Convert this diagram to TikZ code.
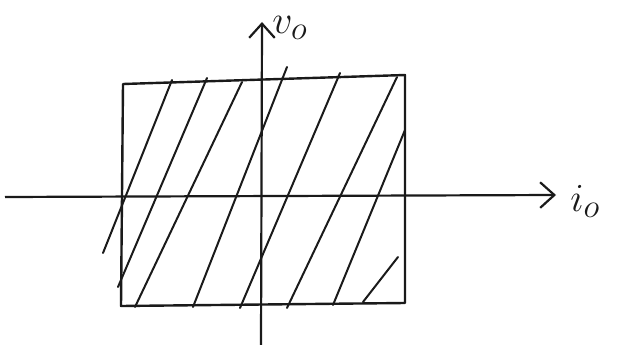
\documentclass[tikz,border=0pt]{standalone}
\usepackage{tikz}
\usetikzlibrary{positioning,arrows.meta}
\definecolor{ink}{HTML}{1A1A1A}
\tikzset{
  axis/.style={draw=ink, line width=2.2pt, -{Straight Barb[length=5mm, width=9mm, line width=2.2pt]}},
  region/.style={draw=ink, line width=2.4pt, line join=round},
  hatch/.style={draw=ink, line width=2pt, line cap=round},
  axlabel/.style={text=ink, inner sep=0pt, font=\Huge, scale=1.6},
}

\begin{document}
\begin{tikzpicture}[x=1pt, y=-1pt]
    \useasboundingbox (0,0) rectangle (621,345);
    % axes
    \coordinate (iL) at (5,197);
    \coordinate (iR) at (556,195);
    \coordinate (vB) at (261,345);
    \coordinate (vT) at (262,22);
    \draw[axis] (iL) -- (iR);
    \draw[axis] (vB) -- (vT);
    \node[axlabel, right=14pt of iR, yshift=-4pt] (io) {$i_o$};
    \node[axlabel, right=10pt of vT, yshift=-4pt] (vo) {$v_o$};
    % operating region
    \coordinate (tl) at (123,84);
    \coordinate (tr) at (405,75);
    \coordinate (br) at (405,303);
    \coordinate (bl) at (121,306);
    \draw[region] (tl) -- (tr) -- (br) -- (bl) -- cycle;
    \foreach \xa/\ya/\xb/\yb in {172/80/103/253, 207/78/118/287, 242/82/135/307,
        287/67/193/307, 340/73/240/308, 397/77/287/308, 405/130/333/305, 398/257/363/302}
      \draw[hatch] (\xa,\ya) -- (\xb,\yb);
\end{tikzpicture}
\end{document}
